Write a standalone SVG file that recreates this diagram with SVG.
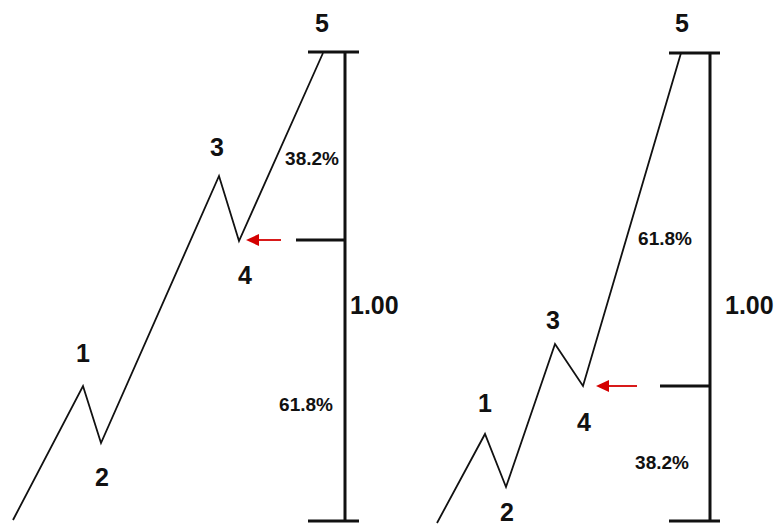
<svg xmlns="http://www.w3.org/2000/svg" width="778" height="524" viewBox="0 0 778 524">
<style>
.wave{fill:none;stroke:#111;stroke-width:1.8;stroke-linejoin:miter}
.bar{stroke:#111;stroke-width:3;fill:none}
.arr{stroke:#d40000;stroke-width:1.8}
.lbl{font-family:"Liberation Sans",Arial,sans-serif;font-weight:bold;fill:#111;text-anchor:middle}
.d{font-size:25px}
.p{font-size:19px}
.r{font-size:25px;text-anchor:start}
</style>
<rect width="778" height="524" fill="#fff"/>
<g id="left">
<polyline class="wave" points="13,520 83,386 101,443 219,176 239,241 323,53"/>
<line class="bar" x1="308" y1="52" x2="359" y2="52"/>
<line class="bar" x1="345" y1="52" x2="345" y2="521"/>
<line class="bar" x1="308" y1="521" x2="359" y2="521"/>
<line class="bar" x1="296" y1="240" x2="345" y2="240"/>
<line class="arr" x1="281" y1="240" x2="256" y2="240"/>
<path d="M246,240 L259,234 L259,246 Z" fill="#d40000"/>
<text class="lbl d" x="322" y="32">5</text>
<text class="lbl d" x="217" y="156">3</text>
<text class="lbl p" x="312" y="165">38.2%</text>
<text class="lbl d" x="245" y="284">4</text>
<text class="lbl r" x="350" y="314">1.00</text>
<text class="lbl d" x="83" y="362">1</text>
<text class="lbl p" x="306" y="411">61.8%</text>
<text class="lbl d" x="102" y="486">2</text>
</g>
<g id="right">
<polyline class="wave" points="437,523 485,434 506,487 555,344 583,386 681,53"/>
<line class="bar" x1="669" y1="53" x2="720" y2="53"/>
<line class="bar" x1="710" y1="53" x2="710" y2="521"/>
<line class="bar" x1="669" y1="521" x2="720" y2="521"/>
<line class="bar" x1="660" y1="386" x2="710" y2="386"/>
<line class="arr" x1="637" y1="386" x2="607" y2="386"/>
<path d="M596,386 L609,380 L609,392 Z" fill="#d40000"/>
<text class="lbl d" x="682" y="32">5</text>
<text class="lbl p" x="665" y="245">61.8%</text>
<text class="lbl r" x="725" y="314">1.00</text>
<text class="lbl d" x="553" y="329">3</text>
<text class="lbl d" x="485" y="412">1</text>
<text class="lbl d" x="584" y="431">4</text>
<text class="lbl p" x="662" y="469">38.2%</text>
<text class="lbl d" x="507" y="521">2</text>
</g>
</svg>
